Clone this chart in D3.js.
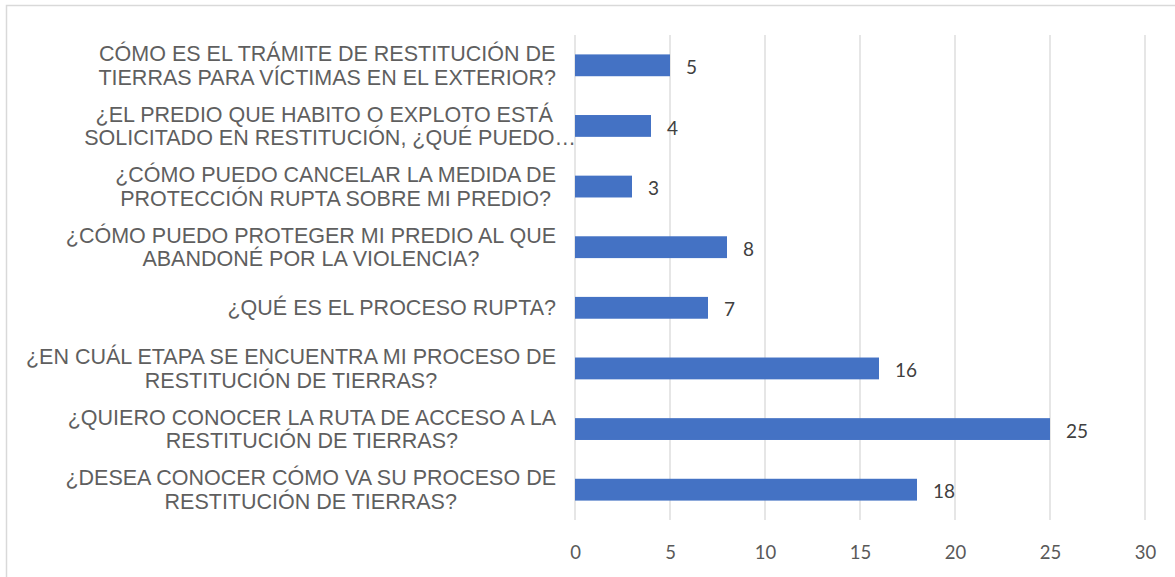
<!DOCTYPE html>
<html>
<head>
<meta charset="utf-8">
<script src="https://cdn.jsdelivr.net/npm/d3@7"></script>
<style>
  body { margin: 0; background: #fff; }
  svg { display: block; }
</style>
</head>
<body>
<script>
// preguntas (una linea por elemento), de arriba hacia abajo
let questions = [
    ["CÓMO ES EL TRÁMITE DE RESTITUCIÓN DE", "TIERRAS PARA VÍCTIMAS EN EL EXTERIOR?"],
    ["¿EL PREDIO QUE HABITO O EXPLOTO ESTÁ  ", "SOLICITADO EN RESTITUCIÓN, ¿QUÉ PUEDO…"],
    ["¿CÓMO PUEDO CANCELAR LA MEDIDA DE", "PROTECCIÓN RUPTA SOBRE MI PREDIO?"],
    ["¿CÓMO PUEDO PROTEGER MI PREDIO AL QUE", "ABANDONÉ POR LA VIOLENCIA?"],
    ["¿QUÉ ES EL PROCESO RUPTA?"],
    ["¿EN CUÁL ETAPA SE ENCUENTRA MI PROCESO DE", "RESTITUCIÓN DE TIERRAS?"],
    ["¿QUIERO CONOCER LA RUTA DE ACCESO A LA", "RESTITUCIÓN DE TIERRAS?"],
    ["¿DESEA CONOCER CÓMO VA SU PROCESO DE", "RESTITUCIÓN DE TIERRAS?"]
];
let counts = [5, 4, 3, 8, 7, 16, 25, 18];
let xTicks = [0, 5, 10, 15, 20, 25, 30];

let w = 1175;
let h = 577;
let plotLeft = 575, plotRight = 1145, plotTop = 35, plotBottom = 520;

let svg = d3.select("body")
            .append("svg")
            .attr("width", w)
            .attr("height", h);

// borde del grafico
svg.append("rect")
    .attr("x", 6.5)
    .attr("y", 5.5)
    .attr("width", w + 10)
    .attr("height", h + 10)
    .attr("fill", "none")
    .attr("stroke", "#d9d9d9")
    .attr("stroke-width", 1.5);

let x = d3.scaleLinear()
    .domain([0, 30])
    .range([plotLeft, plotRight]);

let y = d3.scaleBand()
    .domain(d3.range(questions.length))
    .range([plotTop, plotBottom])
    .paddingInner(0.64)
    .paddingOuter(0.32);

// lineas de cuadricula
svg.append("g")
    .selectAll("line")
    .data(xTicks)
    .enter()
    .append("line")
    .attr("x1", d => x(d))
    .attr("x2", d => x(d))
    .attr("y1", plotTop)
    .attr("y2", plotBottom)
    .attr("stroke", "#d9d9d9")
    .attr("stroke-width", 1.3);

// eje x
let xAxis = svg.append("g")
    .attr("transform", "translate(0," + plotBottom + ")")
    .call(d3.axisBottom(x).tickValues(xTicks).tickSize(0).tickPadding(26));
xAxis.select(".domain").remove();
xAxis.selectAll("text")
    .attr("font-family", "Lato, 'Open Sans', sans-serif")
    .attr("font-size", "18.5px")
    .attr("fill", "#595959");

// barras
svg.selectAll("rect.bar")
    .data(counts)
    .enter()
    .append("rect")
    .attr("class", "bar")
    .attr("x", x(0))
    .attr("y", (d, i) => y(i))
    .attr("width", d => x(d) - x(0))
    .attr("height", y.bandwidth())
    .attr("fill", "#4472c4");

// valores
svg.selectAll("text.val")
    .data(counts)
    .enter()
    .append("text")
    .attr("class", "val")
    .text(d => d)
    .attr("x", d => x(d) + 16)
    .attr("y", (d, i) => y(i) + y.bandwidth() / 2 + 2)
    .attr("dy", "0.35em")
    .attr("font-family", "Lato, 'Open Sans', sans-serif")
    .attr("font-size", "19px")
    .attr("fill", "#404040");

// etiquetas de categorias, centradas en bloque alineado a la derecha
let labelRight = 556;
let lineH = 23.5;
let labels = svg.append("g")
    .attr("font-family", "'Liberation Sans', Arial, sans-serif")
    .attr("font-size", "21.5px")
    .attr("fill", "#5f5f5f");

questions.forEach(function(lines, i) {
    let g = labels.append("g");
    let cy = y(i) + y.bandwidth() / 2;
    let texts = g.selectAll("text")
        .data(lines)
        .enter()
        .append("text")
        .attr("xml:space", "preserve")
        .text(d => d)
        .attr("text-anchor", "middle")
        .attr("dy", "0.35em")
        .attr("y", (d, j) => cy + (j - (lines.length - 1) / 2) * lineH);
    let maxW = d3.max(texts.nodes(), n => n.getComputedTextLength());
    // el texto recortado con "…" se sale del bloque
    let right = lines.some(l => l.endsWith("…")) ? labelRight + 20 : labelRight;
    texts.attr("x", right - maxW / 2);
});
</script>
</body>
</html>
